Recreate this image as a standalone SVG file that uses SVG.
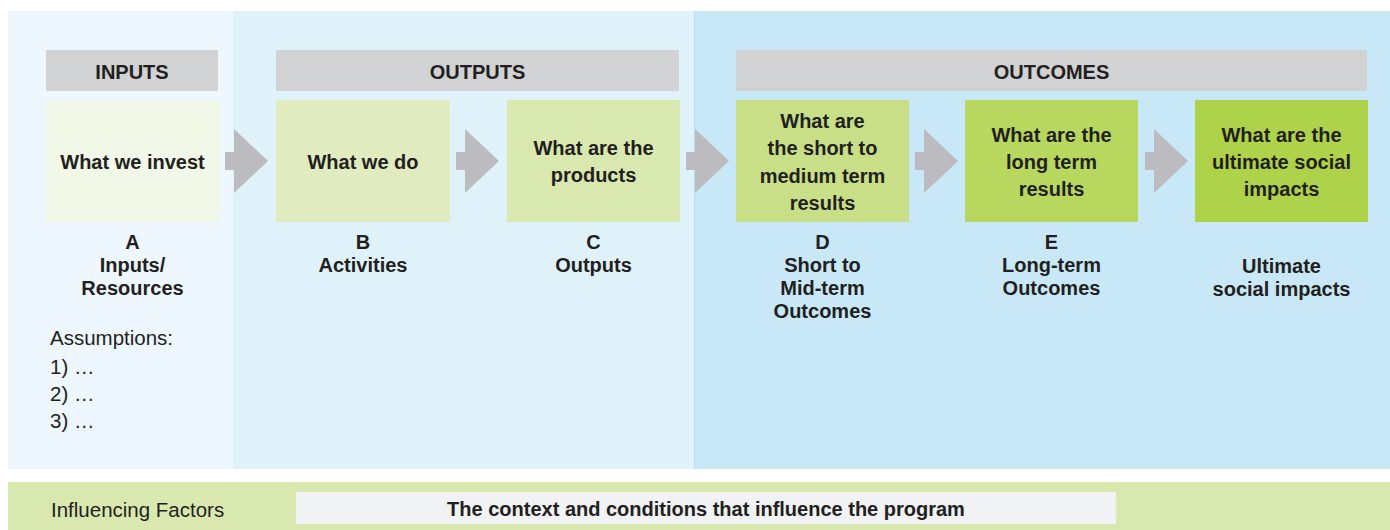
<svg xmlns="http://www.w3.org/2000/svg" width="1390" height="530" viewBox="0 0 1390 530">
<defs>
<style>
.t{font-family:"Liberation Sans",Arial,sans-serif;fill:#231f20;text-anchor:middle}
.b{font-weight:bold;font-size:20px}
.r{font-size:20.5px;text-anchor:start}
.hdr{fill:#d1d2d4}
.arr{fill:#bcbcc0}
</style>
<path id="arrow" d="M0,-9 H9 V-32 L43,0 L9,32 V9 H0 Z"/>
</defs>
<rect width="1390" height="530" fill="#ffffff"/>
<g id="panels">
<rect x="8" y="11" width="225" height="458" fill="#eef7fd"/>
<rect x="233" y="11" width="461" height="458" fill="#dff2fa"/>
<rect x="694" y="11" width="696" height="458" fill="#c8e8f8"/>
<line x1="694.5" y1="11" x2="694.5" y2="469" stroke="#b3def4" stroke-width="1"/>
</g>
<g id="headers">
<g id="h-inputs"><rect class="hdr" x="46" y="50" width="172" height="41"/><text class="t b" x="132" y="79">INPUTS</text></g>
<g id="h-outputs"><rect class="hdr" x="276" y="50" width="403" height="41"/><text class="t b" x="477.5" y="79">OUTPUTS</text></g>
<g id="h-outcomes"><rect class="hdr" x="736" y="50" width="631" height="41"/><text class="t b" x="1051.5" y="79">OUTCOMES</text></g>
</g>
<g id="connectors" class="arr">
<use href="#arrow" x="225" y="161"/>
<use href="#arrow" x="456" y="161"/>
<use href="#arrow" x="686" y="161"/>
<use href="#arrow" x="915" y="161"/>
<use href="#arrow" x="1145" y="161"/>
</g>
<g id="nodeA">
<rect x="46" y="100" width="173" height="122" fill="#f2f8e8"/>
<text class="t b" x="132.5" y="169">What we invest</text>
<text class="t b" x="132.5" y="249">A</text>
<text class="t b" x="132.5" y="272">Inputs/</text>
<text class="t b" x="132.5" y="295">Resources</text>
</g>
<g id="assumptions">
<text class="t r" x="50" y="345">Assumptions:</text>
<text class="t r" x="50" y="374">1) …</text>
<text class="t r" x="50" y="401">2) …</text>
<text class="t r" x="50" y="428">3) …</text>
</g>
<g id="nodeB">
<rect x="276" y="100" width="174" height="122" fill="#e0ebbf"/>
<text class="t b" x="363" y="169">What we do</text>
<text class="t b" x="363" y="249">B</text>
<text class="t b" x="363" y="272">Activities</text>
</g>
<g id="nodeC">
<rect x="507" y="100" width="173" height="122" fill="#d9e8ae"/>
<text class="t b" x="593.5" y="155">What are the</text>
<text class="t b" x="593.5" y="182">products</text>
<text class="t b" x="593.5" y="249">C</text>
<text class="t b" x="593.5" y="272">Outputs</text>
</g>
<g id="nodeD">
<rect x="736" y="100" width="173" height="122" fill="#c8df87"/>
<text class="t b" x="822.5" y="128">What are</text>
<text class="t b" x="822.5" y="155">the short to</text>
<text class="t b" x="822.5" y="183">medium term</text>
<text class="t b" x="822.5" y="210">results</text>
<text class="t b" x="822.5" y="249">D</text>
<text class="t b" x="822.5" y="272">Short to</text>
<text class="t b" x="822.5" y="295">Mid-term</text>
<text class="t b" x="822.5" y="318">Outcomes</text>
</g>
<g id="nodeE">
<rect x="965" y="100" width="173" height="122" fill="#b8d75f"/>
<text class="t b" x="1051.5" y="142">What are the</text>
<text class="t b" x="1051.5" y="169">long term</text>
<text class="t b" x="1051.5" y="196">results</text>
<text class="t b" x="1051.5" y="249">E</text>
<text class="t b" x="1051.5" y="272">Long-term</text>
<text class="t b" x="1051.5" y="295">Outcomes</text>
</g>
<g id="nodeF">
<rect x="1195" y="100" width="173" height="122" fill="#aed24a"/>
<text class="t b" x="1281.5" y="142">What are the</text>
<text class="t b" x="1281.5" y="169">ultimate social</text>
<text class="t b" x="1281.5" y="196">impacts</text>
<text class="t b" x="1281.5" y="273">Ultimate</text>
<text class="t b" x="1281.5" y="296">social impacts</text>
</g>
<g id="influencing">
<rect x="8" y="482" width="1382" height="48" fill="#d9e8af"/>
<text class="t r" x="51" y="517">Influencing Factors</text>
<rect x="296" y="492" width="820" height="32" fill="#f1f2f4"/>
<text class="t" x="706" y="516" style="font-weight:bold;font-size:20px">The context and conditions that influence the program</text>
</g>
</svg>
